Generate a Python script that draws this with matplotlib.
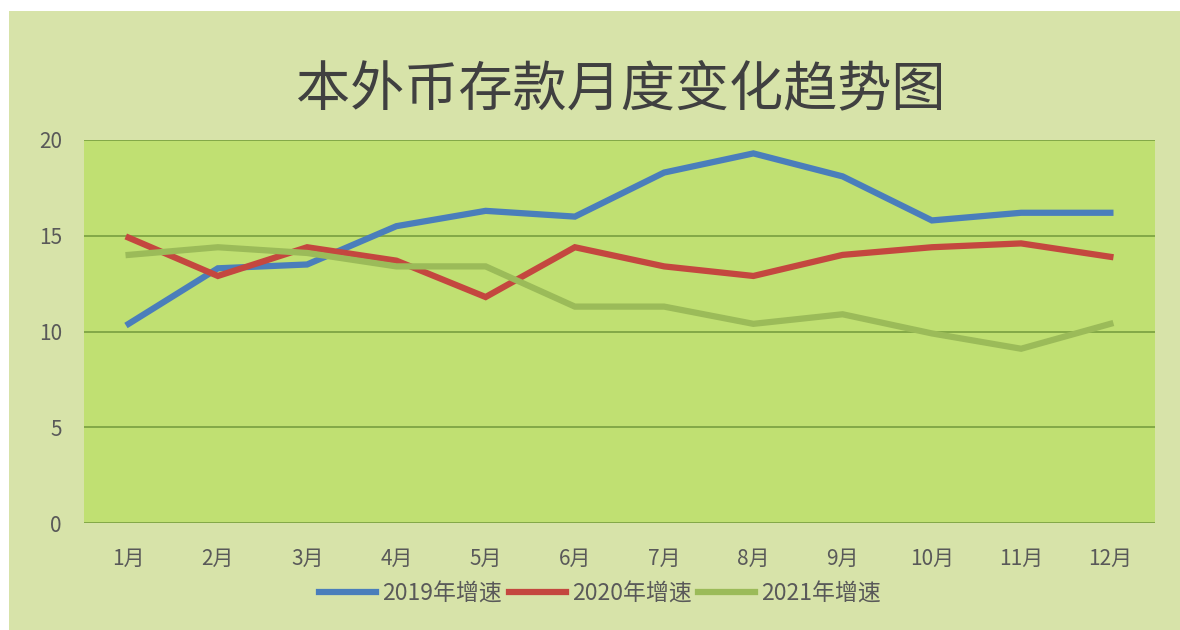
import matplotlib
matplotlib.use("Agg")
import matplotlib.pyplot as plt
from matplotlib.patches import Rectangle

plt.rcParams['font.family'] = ['Noto Sans CJK SC', 'DejaVu Sans']

months = ["1月", "2月", "3月", "4月", "5月", "6月", "7月", "8月", "9月", "10月", "11月", "12月"]
growth_2019 = [10.4, 13.3, 13.5, 15.5, 16.3, 16.0, 18.3, 19.3, 18.1, 15.8, 16.2, 16.2]
growth_2020 = [14.9, 12.9, 14.4, 13.7, 11.8, 14.4, 13.4, 12.9, 14.0, 14.4, 14.6, 13.9]
growth_2021 = [14.0, 14.4, 14.1, 13.4, 13.4, 11.3, 11.3, 10.4, 10.9, 9.9, 9.1, 10.4]
series_names = ["2019年增速", "2020年增速", "2021年增速"]
y_ticks = [0, 5, 10, 15, 20]

W, H = 1180, 630
fig = plt.figure(figsize=(W / 100, H / 100), dpi=100, facecolor="white")

# chart background (light green panel with white margin top/left)
fig.patches.append(Rectangle((9 / W, 0), 1 - 9 / W, 1 - 11 / H, transform=fig.transFigure,
                             facecolor="#d7e3a9", edgecolor="none", zorder=-10))

ax = fig.add_axes([84 / W, 1 - 523 / H, (1155 - 84) / W, (523 - 140) / H])
ax.set_facecolor("#c0e072")

x = range(len(months))
colors = ["#4a7ebb", "#c4473f", "#9bbb59"]
for vals, name, c in zip([growth_2019, growth_2020, growth_2021], series_names, colors):
    ax.plot(x, vals, color=c, linewidth=4.5, label=name, solid_joinstyle="miter")

ax.set_xlim(-0.5, len(months) - 0.5)
ax.set_ylim(0, 20)
ax.set_yticks(y_ticks)
ax.set_xticks(list(x))
ax.set_xticklabels(months)
ax.tick_params(axis="both", length=0, labelsize=15, labelcolor="#595959")
ax.tick_params(axis="x", pad=18)
ax.tick_params(axis="y", pad=16)
for s in ax.spines.values():
    s.set_visible(False)
ax.grid(axis="y", color="#7ea444", linewidth=1.3)
ax.set_axisbelow(True)

fig.text(621 / W, 1 - 90 / H, "本外币存款月度变化趋势图", ha="center", va="center",
         fontsize=39, color="#404040")

fig.legend(loc="center", bbox_to_anchor=(600 / W, 1 - 594 / H), ncol=3, frameon=False,
           fontsize=16.5, labelcolor="#595959", handlelength=2.5, handletextpad=0.25,
           columnspacing=0.3, borderpad=0)

fig.savefig("out.png", dpi=100, facecolor="white")
